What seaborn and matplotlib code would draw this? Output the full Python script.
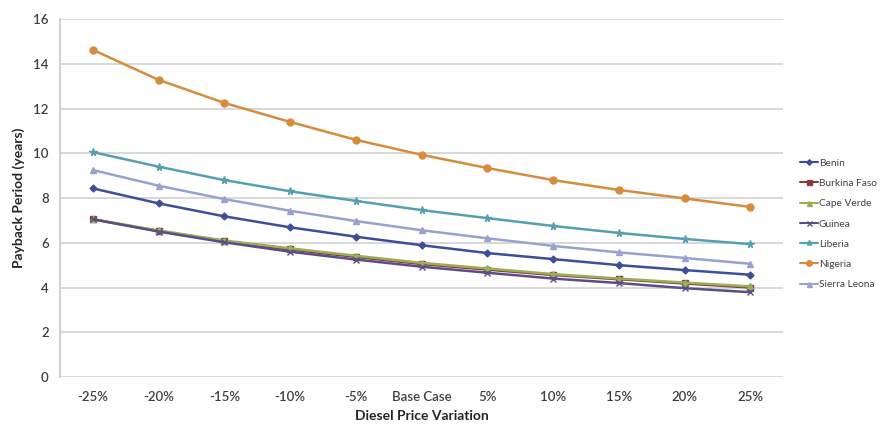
import matplotlib
matplotlib.use("Agg")
import matplotlib.pyplot as plt
import seaborn as sns
import pandas as pd
from matplotlib.lines import Line2D

# Diesel price scenarios (x axis categories)
scenarios = ["-25%", "-20%", "-15%", "-10%", "-5%", "Base Case",
             "5%", "10%", "15%", "20%", "25%"]

# Payback period in years for each country
benin = [8.43, 7.76, 7.18, 6.69, 6.27, 5.89, 5.54, 5.27, 5.00, 4.78, 4.57]
burkina_faso = [7.05, 6.52, 6.07, 5.70, 5.37, 5.05, 4.80, 4.56, 4.37, 4.18, 4.00]
cape_verde = [7.05, 6.55, 6.10, 5.75, 5.42, 5.10, 4.85, 4.60, 4.40, 4.22, 4.05]
guinea = [7.05, 6.50, 6.02, 5.60, 5.25, 4.93, 4.66, 4.40, 4.20, 3.97, 3.79]
liberia = [10.05, 9.40, 8.80, 8.30, 7.87, 7.46, 7.10, 6.75, 6.44, 6.17, 5.94]
nigeria = [14.62, 13.28, 12.25, 11.40, 10.60, 9.93, 9.34, 8.80, 8.36, 7.98, 7.60]
sierra_leona = [9.25, 8.55, 7.95, 7.43, 6.97, 6.56, 6.20, 5.86, 5.57, 5.32, 5.06]

countries = ["Benin", "Burkina Faso", "Cape Verde", "Guinea",
             "Liberia", "Nigeria", "Sierra Leona"]
series = [benin, burkina_faso, cape_verde, guinea, liberia, nigeria, sierra_leona]

colors = ["#3D4F98", "#8A3C3C", "#9AAE55", "#5C4C88", "#559FB2", "#D68C3C", "#97A3CE"]
markers = ["D", "s", "^", "x", "*", "o", "^"]
msizes = [3.5, 4.5, 4.5, 4.5, 5.5, 5, 4.5]

rows = []
for name, vals in zip(countries, series):
    for s, v in zip(scenarios, vals):
        rows.append({"Scenario": s, "Country": name, "Payback": v})
df = pd.DataFrame(rows)

sns.set_theme(style="white")
plt.rcParams["font.family"] = ["Lato", "DejaVu Sans"]

fig = plt.figure(figsize=(8.91, 4.25), dpi=100)
ax = fig.add_axes([0.0673, 0.1129, 0.8117, 0.8424])

for name, col, mk, ms in zip(countries, colors, markers, msizes):
    sub = df[df["Country"] == name]
    sns.lineplot(data=sub, x="Scenario", y="Payback", sort=False, ax=ax,
                 color=col, marker=mk, markersize=ms, linewidth=1.8,
                 markeredgecolor=col, markeredgewidth=1.0, label=None)

ax.set_xlim(-0.5, len(scenarios) - 0.5)
ax.set_ylim(0, 16)
ax.set_yticks(range(0, 17, 2))
ax.yaxis.grid(True, color="#D6D6D6", linewidth=1.3)
ax.xaxis.grid(False)
for side in ["top", "right", "bottom"]:
    ax.spines[side].set_visible(False)
ax.spines["left"].set_color("#C8C8C8")
ax.spines["left"].set_linewidth(1.2)
ax.tick_params(axis="y", length=3, color="#C8C8C8", labelsize=9.5,
               labelcolor="#404040", pad=5)
ax.tick_params(axis="x", length=0, labelsize=9.5, labelcolor="#404040", pad=10)
for lbl in ax.get_xticklabels() + ax.get_yticklabels():
    lbl.set_fontweight("semibold")

ax.set_xlabel("Diesel Price Variation", fontsize=10, fontweight="bold",
              color="#262626", labelpad=5)
ax.set_ylabel("Payback Period (years)", fontsize=10, fontweight="bold",
              color="#262626", labelpad=6)

handles = [Line2D([0], [0], color=c, marker=m, markersize=ms * 0.8, linewidth=1.5,
                  markeredgecolor=c)
           for c, m, ms in zip(colors, markers, msizes)]
leg = fig.legend(handles, countries, loc="center left",
                 bbox_to_anchor=(0.893, 0.473), frameon=False,
                 fontsize=7.3, handlelength=1.8, handletextpad=0.1,
                 labelspacing=1.1, borderaxespad=0)
for t in leg.get_texts():
    t.set_color("#404040")

fig.savefig("out.png", dpi=100)
